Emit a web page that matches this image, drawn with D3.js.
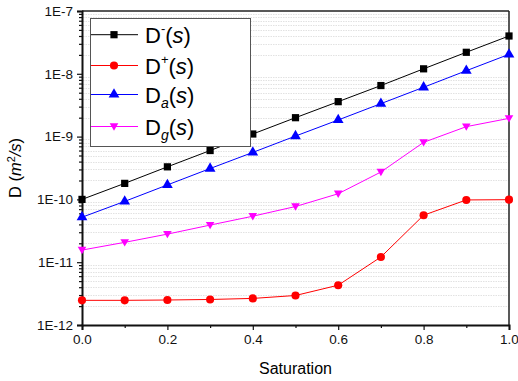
<!DOCTYPE html>
<html>
<head>
<meta charset="utf-8">
<script src="https://cdn.jsdelivr.net/npm/d3@7"></script>
<style>
  body { margin: 0; background: #fff; }
  text { font-family: Arial, "Liberation Sans", sans-serif; }
</style>
</head>
<body>
<div id="chart"></div>
<script>
// data
var saturation = [0, 0.1, 0.2, 0.3, 0.4, 0.5, 0.6, 0.7, 0.8, 0.9, 1.0];
var dMinus = [1e-10, 1.8e-10, 3.3e-10, 6e-10, 1.1e-9, 2e-9, 3.6e-9, 6.5e-9, 1.2e-8, 2.2e-8, 4e-8];
var dPlus = [2.47e-12, 2.47e-12, 2.5e-12, 2.55e-12, 2.65e-12, 2.95e-12, 4.3e-12, 1.21e-11, 5.6e-11, 9.8e-11, 9.9e-11];
var dA = [5.2e-11, 9.3e-11, 1.7e-10, 3.1e-10, 5.6e-10, 1.02e-9, 1.84e-9, 3.35e-9, 6.1e-9, 1.12e-8, 2.04e-8];
var dG = [1.56e-11, 2.07e-11, 2.8e-11, 3.9e-11, 5.4e-11, 7.7e-11, 1.23e-10, 2.73e-10, 8.1e-10, 1.44e-9, 1.95e-9];
var xTicks = [0, 0.2, 0.4, 0.6, 0.8, 1.0];
var yTicks = [1e-12, 1e-11, 1e-10, 1e-9, 1e-8, 1e-7];

var series = [
  {name: "minus", values: dMinus, color: "#000000", marker: "square"},
  {name: "plus", values: dPlus, color: "#ff0000", marker: "circle"},
  {name: "a", values: dA, color: "#0000ff", marker: "triangle"},
  {name: "g", values: dG, color: "#ff00ff", marker: "triangleDown"}
];

var layout = {
  width: 518, height: 381,
  margin: {top: 11, right: 9, bottom: 56, left: 82}
};

var svg = d3.select("#chart").append("svg")
  .attr("width", layout.width)
  .attr("height", layout.height);

var x = d3.scaleLinear()
  .domain([0, 1])
  .range([layout.margin.left, layout.width - layout.margin.right]);

var y = d3.scaleLog()
  .domain([1e-12, 1e-7])
  .range([layout.height - layout.margin.bottom, layout.margin.top]);

// minor positions on the log axis
var minorY = [];
for (var e = -12; e < -7; e++) {
  for (var m = 2; m <= 9; m++) minorY.push(m * Math.pow(10, e));
}

// dotted grid
svg.append("g")
  .selectAll("line")
  .data(minorY)
  .enter()
  .append("line")
  .attr("x1", x(0) + 1)
  .attr("x2", x(1))
  .attr("y1", d => Math.round(y(d)) + 0.5)
  .attr("y2", d => Math.round(y(d)) + 0.5)
  .attr("stroke", "#e2e2e2")
  .attr("stroke-width", 1)
  .attr("stroke-dasharray", "1.5,1");

// frame top / right
svg.append("line")
  .attr("x1", x(0)).attr("x2", x(1))
  .attr("y1", y(1e-7)).attr("y2", y(1e-7))
  .attr("stroke", "#222").attr("stroke-width", 1.5);
svg.append("line")
  .attr("x1", x(1)).attr("x2", x(1))
  .attr("y1", y(1e-7)).attr("y2", y(1e-12))
  .attr("stroke", "#222").attr("stroke-width", 1.5);

// x axis
var xAxis = svg.append("g")
  .attr("transform", "translate(0," + y(1e-12) + ")")
  .call(d3.axisBottom(x).tickValues(xTicks).tickFormat(d3.format(".1f")).tickSize(5).tickPadding(4));
svg.append("g")
  .attr("transform", "translate(0," + y(1e-12) + ")")
  .call(d3.axisBottom(x).tickValues([0.1, 0.3, 0.5, 0.7, 0.9]).tickFormat("").tickSize(3))
  .select(".domain").remove();

// y axis
var yAxis = svg.append("g")
  .attr("transform", "translate(" + x(0) + ",0)")
  .call(d3.axisLeft(y).tickValues(yTicks).tickFormat(d => "1E" + Math.round(Math.log10(d))).tickSize(5).tickPadding(4));
svg.append("g")
  .attr("transform", "translate(" + x(0) + ",0)")
  .call(d3.axisLeft(y).tickValues(minorY).tickFormat("").tickSize(3))
  .select(".domain").remove();

svg.selectAll(".domain").attr("stroke", "#111").attr("stroke-width", 2);
svg.selectAll(".tick line").attr("stroke", "#111").attr("stroke-width", 1.2);
svg.selectAll(".tick text").attr("font-size", 13.5).attr("fill", "#111")
  .attr("font-family", "Arial, 'Liberation Sans', sans-serif");

// axis titles
svg.append("text")
  .attr("x", (x(0) + x(1)) / 2)
  .attr("y", 374)
  .attr("text-anchor", "middle")
  .attr("font-size", 16)
  .text("Saturation");

var yTitle = svg.append("text")
  .attr("transform", "translate(21," + ((y(1e-7) + y(1e-12)) / 2) + ") rotate(-90)")
  .attr("text-anchor", "middle")
  .attr("font-size", 16.5);
yTitle.append("tspan").text("D (");
yTitle.append("tspan").attr("font-style", "italic").text("m");
yTitle.append("tspan").attr("font-size", 11).attr("dy", -6).text("2");
yTitle.append("tspan").attr("dy", 6).attr("font-style", "italic").text("/s");
yTitle.append("tspan").text(")");

// marker shapes
function symbolFor(kind) {
  if (kind === "square") return d3.symbol().type(d3.symbolSquare).size(52)();
  if (kind === "circle") return d3.symbol().type(d3.symbolCircle).size(52)();
  if (kind === "triangle") return d3.symbol().type(d3.symbolTriangle).size(50)();
  return "M-4.3,-3.2L4.3,-3.2L0,4.2Z";
}

var line = d3.line()
  .x((d, i) => x(saturation[i]))
  .y(d => y(d));

series.forEach(s => {
  svg.append("path")
    .datum(s.values)
    .attr("d", line)
    .attr("fill", "none")
    .attr("stroke", s.color)
    .attr("stroke-width", 1);
  svg.append("g")
    .selectAll("path")
    .data(s.values)
    .enter()
    .append("path")
    .attr("transform", (d, i) => "translate(" + x(saturation[i]) + "," + y(d) + ")")
    .attr("d", symbolFor(s.marker))
    .attr("fill", s.color);
});

// legend
var legend = svg.append("g");
legend.append("rect")
  .attr("x", 90.5).attr("y", 18.5)
  .attr("width", 160).attr("height", 128)
  .attr("fill", "#fff")
  .attr("stroke", "#555")
  .attr("stroke-width", 1);

var legendY = [34.7, 65.5, 94.5, 126.5];
var legendLabels = [
  {sub: null, sup: "-"},
  {sub: null, sup: "+"},
  {sub: "a", sup: null},
  {sub: "g", sup: null}
];

series.forEach((s, i) => {
  var ly = legendY[i];
  legend.append("line")
    .attr("x1", 91).attr("x2", 138)
    .attr("y1", ly).attr("y2", ly)
    .attr("stroke", s.color)
    .attr("stroke-width", 1);
  legend.append("path")
    .attr("transform", "translate(114," + ly + ")")
    .attr("d", symbolFor(s.marker))
    .attr("fill", s.color);
  var t = legend.append("text")
    .attr("x", 145)
    .attr("y", ly + 8)
    .attr("font-size", 22)
    .attr("fill", "#000");
  t.append("tspan").text("D");
  var lab = legendLabels[i];
  if (lab.sup) {
    t.append("tspan").attr("font-size", 13).attr("dy", -10).text(lab.sup);
    t.append("tspan").attr("dy", 10).text("(");
  } else {
    t.append("tspan").attr("font-size", 14).attr("font-style", "italic").attr("dy", 5).text(lab.sub);
    t.append("tspan").attr("dy", -5).text("(");
  }
  t.append("tspan").attr("font-style", "italic").text("s");
  t.append("tspan").text(")");
});
</script>
</body>
</html>
